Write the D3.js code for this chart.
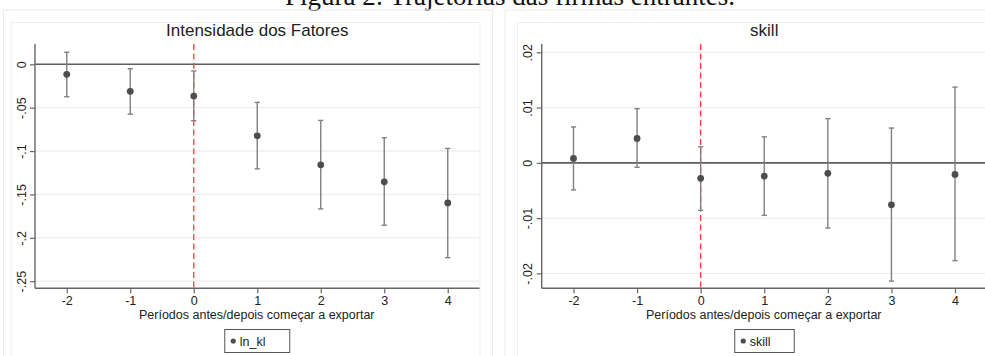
<!DOCTYPE html>
<html>
<head>
<meta charset="utf-8">
<script src="https://cdn.jsdelivr.net/npm/d3@7"></script>
<style>
  html, body { margin: 0; padding: 0; background: #ffffff; }
  svg { display: block; }
</style>
</head>
<body>
<svg id="chart" width="985" height="356"></svg>
<script>
// ---------------- data ----------------
const figureTitle = "Figura 2: Trajetórias das firmas entrantes.";
const xTitle = "Períodos antes/depois começar a exportar";
const periods = [-2, -1, 0, 1, 2, 3, 4];
const xTickLabels = ["-2", "-1", "0", "1", "2", "3", "4"];

const lnklTitle = "Intensidade dos Fatores";
const lnklLegend = "ln_kl";
const lnklCoef  = [-0.0115, -0.0312, -0.0366, -0.0824, -0.1159, -0.1355, -0.1598];
const lnklLower = [-0.0374, -0.0574, -0.0650, -0.1205, -0.1667, -0.1855, -0.2229];
const lnklUpper = [ 0.0139, -0.0051, -0.0077, -0.0439, -0.0647, -0.0847, -0.0970];
const lnklYTicks = [0, -0.05, -0.1, -0.15, -0.2, -0.25];
const lnklYTickLabels = ["0", "-.05", "-.1", "-.15", "-.2", "-.25"];

const skillTitle = "skill";
const skillLegend = "skill";
const skillCoef  = [ 0.0008,  0.0044, -0.0028, -0.0024, -0.0019, -0.0076, -0.0021];
const skillLower = [-0.0049, -0.0008, -0.0086, -0.0095, -0.0118, -0.0214, -0.0177];
const skillUpper = [ 0.0065,  0.0098,  0.0029,  0.0047,  0.0080,  0.0063,  0.0137];
const skillYTicks = [0.02, 0.01, 0, -0.01, -0.02];
const skillYTickLabels = [".02", ".01", "0", "-.01", "-.02"];

// ---------------- drawing ----------------
const svg = d3.select("#chart");
const sans = "'Liberation Sans', Arial, sans-serif";

// figure title (partly cut by the top edge)
svg.append("text")
  .attr("x", 510).attr("y", 5)
  .attr("text-anchor", "middle")
  .attr("font-family", "'Liberation Serif', 'Times New Roman', serif")
  .attr("font-size", 27)
  .attr("fill", "#111")
  .text(figureTitle);

function drawPanel(cfg) {
  const g = svg.append("g");

  // graph region frames
  g.append("rect")
    .attr("x", cfg.outer[0]).attr("y", 10)
    .attr("width", cfg.outer[1] - cfg.outer[0]).attr("height", 400)
    .attr("fill", "none").attr("stroke", "#ececec").attr("stroke-width", 1);
  g.append("rect")
    .attr("x", cfg.inner[0]).attr("y", 22.5)
    .attr("width", cfg.inner[1] - cfg.inner[0]).attr("height", 400)
    .attr("fill", "none").attr("stroke", "#efefef").attr("stroke-width", 1);

  const x = d3.scaleLinear().domain([-2.5, 4.5]).range(cfg.xRange);
  const y = d3.scaleLinear().domain(cfg.yDomain).range([288.3, 44]);

  // grid lines
  g.append("g").selectAll("line").data(cfg.yTicks).join("line")
    .attr("x1", cfg.xRange[0]).attr("x2", cfg.xRange[1])
    .attr("y1", d => y(d)).attr("y2", d => y(d))
    .attr("stroke", "#eeeeee").attr("stroke-width", 1.2);

  // zero line
  g.append("line")
    .attr("x1", cfg.xRange[0]).attr("x2", cfg.xRange[1])
    .attr("y1", y(0)).attr("y2", y(0))
    .attr("stroke", "#5f5f5f").attr("stroke-width", 1.6);

  // red dashed line at period 0
  g.append("line")
    .attr("x1", x(0)).attr("x2", x(0))
    .attr("y1", 44).attr("y2", 288)
    .attr("stroke", "#ff3c3c").attr("stroke-width", 1.3)
    .attr("stroke-dasharray", "6,3.5");

  // y axis
  const yAxis = d3.axisLeft(y).tickValues(cfg.yTicks)
    .tickFormat((d, i) => cfg.yTickLabels[i]).tickSize(5).tickPadding(4);
  const ya = g.append("g").attr("transform", `translate(${cfg.xRange[0]},0)`).call(yAxis);
  ya.select(".domain").attr("stroke", "#666").attr("stroke-width", 1.4)
    .attr("d", `M0,44V288.3`);
  ya.selectAll(".tick line").attr("stroke", "#666").attr("stroke-width", 1.2);
  ya.selectAll(".tick text")
    .attr("font-family", sans).attr("font-size", 12.5).attr("fill", "#222")
    .attr("x", null).attr("dy", null)
    .attr("text-anchor", "middle")
    .attr("transform", "translate(-9.5,0) rotate(-90)");

  // x axis
  const xAxis = d3.axisBottom(x).tickValues(periods)
    .tickFormat((d, i) => xTickLabels[i]).tickSize(5).tickPadding(3);
  const xa = g.append("g").attr("transform", "translate(0,288.3)").call(xAxis);
  xa.select(".domain").attr("stroke", "#666").attr("stroke-width", 1.4)
    .attr("d", `M${cfg.xRange[0]},0H${cfg.xRange[1]}`);
  xa.selectAll(".tick line").attr("stroke", "#666").attr("stroke-width", 1.2);
  xa.selectAll(".tick text")
    .attr("font-family", sans).attr("font-size", 12.5).attr("fill", "#222");

  // error bars
  const eb = g.append("g");
  eb.selectAll("line.v").data(periods).join("line").attr("class", "v")
    .attr("x1", d => x(d)).attr("x2", d => x(d))
    .attr("y1", (d, i) => y(cfg.upper[i])).attr("y2", (d, i) => y(cfg.lower[i]))
    .attr("stroke", "#808080").attr("stroke-width", 1.4);
  eb.selectAll("line.cu").data(periods).join("line").attr("class", "cu")
    .attr("x1", d => x(d) - 2.6).attr("x2", d => x(d) + 2.6)
    .attr("y1", (d, i) => y(cfg.upper[i])).attr("y2", (d, i) => y(cfg.upper[i]))
    .attr("stroke", "#808080").attr("stroke-width", 1.4);
  eb.selectAll("line.cl").data(periods).join("line").attr("class", "cl")
    .attr("x1", d => x(d) - 2.6).attr("x2", d => x(d) + 2.6)
    .attr("y1", (d, i) => y(cfg.lower[i])).attr("y2", (d, i) => y(cfg.lower[i]))
    .attr("stroke", "#808080").attr("stroke-width", 1.4);

  // points
  g.append("g").selectAll("circle").data(periods).join("circle")
    .attr("cx", d => x(d)).attr("cy", (d, i) => y(cfg.coef[i]))
    .attr("r", 3.4).attr("fill", "#4d4d4d");

  // panel title
  const cx = (cfg.xRange[0] + cfg.xRange[1]) / 2;
  g.append("text")
    .attr("x", cx).attr("y", 36)
    .attr("text-anchor", "middle")
    .attr("font-family", sans).attr("font-size", 17).attr("fill", "#222")
    .text(cfg.title);

  // x axis title
  g.append("text")
    .attr("x", cx - 0.5).attr("y", 318.5)
    .attr("text-anchor", "middle")
    .attr("font-family", sans).attr("font-size", 12.5).attr("fill", "#222")
    .text(xTitle);

  // legend
  const lg = g.append("g");
  lg.append("rect")
    .attr("x", cx + cfg.legendBox[0]).attr("y", 329.5)
    .attr("width", cfg.legendBox[1]).attr("height", 23)
    .attr("fill", "#fff").attr("stroke", "#555").attr("stroke-width", 1);
  lg.append("circle")
    .attr("cx", cx + cfg.legendBox[0] + 8.5).attr("cy", 341)
    .attr("r", 2.6).attr("fill", "#4d4d4d");
  lg.append("text")
    .attr("x", cx + cfg.legendBox[0] + 15).attr("y", 345.5)
    .attr("font-family", sans).attr("font-size", 12.5).attr("fill", "#222")
    .text(cfg.legend);
}

drawPanel({
  outer: [3.5, 492.5], inner: [11, 480],
  xRange: [35, 479.5],
  yDomain: [-0.2582, 0.0234],
  yTicks: lnklYTicks, yTickLabels: lnklYTickLabels,
  coef: lnklCoef, lower: lnklLower, upper: lnklUpper,
  title: lnklTitle, legend: lnklLegend,
  legendBox: [-32.5, 65]
});

drawPanel({
  outer: [505, 1100], inner: [517.5, 1100],
  xRange: [541.7, 986.8],
  yDomain: [-0.0227, 0.0215],
  yTicks: skillYTicks, yTickLabels: skillYTickLabels,
  coef: skillCoef, lower: skillLower, upper: skillUpper,
  title: skillTitle, legend: skillLegend,
  legendBox: [-29.5, 59.5]
});
</script>
</body>
</html>
